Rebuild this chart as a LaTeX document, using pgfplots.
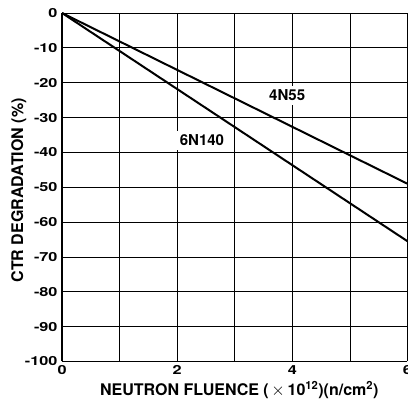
\documentclass[border=0pt]{standalone}
\usepackage{pgfplots}
\pgfplotsset{compat=1.18}
\usepackage{fontspec}
\setmainfont{TeX Gyre Heros}
\newcommand{\tl}[1]{\scalebox{1.3}[1]{\fontsize{12.5}{14}\selectfont\bfseries #1}}
\begin{document}
\begin{tikzpicture}
\begin{axis}[
  scale only axis,
  width=345pt, height=348pt,
  xmin=0, xmax=6, ymin=-100, ymax=0,
  xtick={0,2,4,6},
  minor xtick={1,3,5},
  ytick={-100,-90,...,0},
  xticklabels={\tl{0},\tl{2},\tl{4},\tl{6}},
  yticklabels={\tl{-100},\tl{-90},\tl{-80},\tl{-70},\tl{-60},\tl{-50},\tl{-40},\tl{-30},\tl{-20},\tl{-10},\tl{0}},
  grid=both,
  major grid style={black, line width=0.75pt},
  minor grid style={black, line width=0.75pt},
  axis line style={black, line width=1.2pt},
  tick style={draw=none},
  axis x line*=bottom, axis y line*=left,
  xticklabel style={yshift=-0.5pt},
  yticklabel style={xshift=-1pt},
  xlabel={NEUTRON FLUENCE (\,$\times$\,10\textsuperscript{12})(n/cm\textsuperscript{2})},
  ylabel={CTR DEGRADATION (\%)},
  label style={font=\fontsize{16}{18}\selectfont\bfseries},
  xlabel style={at={(axis description cs:0.513,-0.0977)}, anchor=base},
  ylabel style={at={(axis description cs:-0.113,0.491)}, anchor=base},
  clip=false,
]
\addplot[black, line width=2pt] coordinates {(0,0) (6,-49)};
\addplot[black, line width=2pt] coordinates {(0,0) (6,-65.5)};
\node[fill=white, inner sep=4pt, font=\fontsize{15}{17}\selectfont\bfseries] at (axis cs:3.91,-23.6) {4N55};
\node[fill=white, inner sep=4pt, font=\fontsize{15}{17}\selectfont\bfseries] at (axis cs:2.43,-36.5) {6N140};
\end{axis}
\pgfresetboundingbox
\useasboundingbox (-62pt,-39pt) rectangle (345.5pt,361pt);
\end{tikzpicture}
\end{document}
